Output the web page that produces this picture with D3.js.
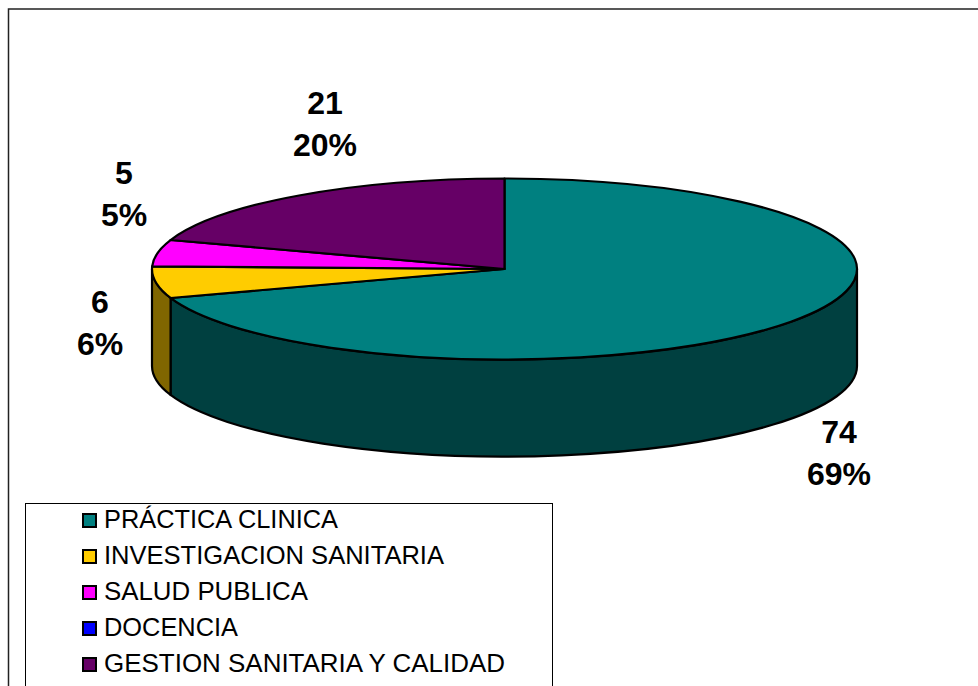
<!DOCTYPE html>
<html><head><meta charset="utf-8">
<script src="https://cdn.jsdelivr.net/npm/d3@7/dist/d3.min.js"></script>
<style>html,body{margin:0;padding:0;background:#fff}svg{display:block}text{font-family:"Liberation Sans",Arial,sans-serif;fill:#000}</style>
</head><body><svg id="c" width="978" height="686"></svg>
<script>
const categories = ["PRÁCTICA CLINICA","INVESTIGACION SANITARIA","SALUD PUBLICA","DOCENCIA","GESTION SANITARIA Y CALIDAD"];
const values = [74,6,5,0,21];
const percents = ["69%","6%","5%","0%","20%"];
const colors = ["#008080","#FFCC00","#FF00FF","#0000FF","#660066"];
const sideColors = ["#004040","#806600","#800080","#000080","#330033"];
const labelSpots = [[839,454],[100,324],[124,195],null,[325,125]];
const legendWidths = [234,340,204,134,401];

const svg = d3.select("#c");
const W=978,H=686;
svg.append("rect").attr("x",8.5).attr("y",9).attr("width",W).attr("height",H).attr("fill","#fff").attr("stroke","#222").attr("stroke-width",1.5);

const cx=504.5, cy=269, rx=352.5, ry=90.5, depth=97;
const pie = d3.pie().sort(null).value(d=>d)(values);
const X = d3.scaleLinear().domain([-1,1]).range([cx-rx,cx+rx]);
const Y = d3.scaleLinear().domain([-1,1]).range([cy-ry,cy+ry]);
const px = a=>X(Math.sin(a)), py=a=>Y(-Math.cos(a));

function rimPath(a0,a1,dz){
  const large = (a1-a0)>Math.PI?1:0;
  return `M${px(a0)},${py(a0)+dz}A${rx},${ry} 0 ${large} 1 ${px(a1)},${py(a1)+dz}`;
}
function sidePath(a0,a1){
  const large = (a1-a0)>Math.PI?1:0;
  return `M${px(a0)},${py(a0)}A${rx},${ry} 0 ${large} 1 ${px(a1)},${py(a1)}L${px(a1)},${py(a1)+depth}A${rx},${ry} 0 ${large} 0 ${px(a0)},${py(a0)+depth}Z`;
}
const g = svg.append("g").attr("stroke","#000").attr("stroke-width",2.2).attr("stroke-linejoin","round");
pie.forEach((d,i)=>{
  const a0=Math.max(d.startAngle,Math.PI/2), a1=Math.min(d.endAngle,Math.PI*1.5);
  if(a1>a0) g.append("path").attr("d",sidePath(a0,a1)).attr("fill",sideColors[i]);
});
pie.forEach((d,i)=>{
  if(d.endAngle-d.startAngle<=0) return;
  g.append("path").attr("d",rimPath(d.startAngle,d.endAngle,0)+`L${cx},${cy}Z`).attr("fill",colors[i]);
});
const lab = svg.append("g").attr("text-anchor","middle").attr("font-weight","bold").attr("font-size",32);
pie.forEach((d,i)=>{
  if(!labelSpots[i]) return;
  const [x,y]=labelSpots[i];
  lab.append("text").attr("x",x).attr("y",y-11).text(values[i]);
  lab.append("text").attr("x",x).attr("y",y+31).text(percents[i]);
});
const lx=25.5, ly=503.5;
svg.append("rect").attr("x",lx).attr("y",ly).attr("width",527).attr("height",H).attr("fill","#fff").attr("stroke","#000");
const row = d3.scalePoint().domain(categories).range([519,663]);
const lg = svg.append("g");
categories.forEach((c,i)=>{
  lg.append("rect").attr("x",83).attr("y",row(c)-5).attr("width",13).attr("height",13).attr("fill",colors[i]).attr("stroke","#000").attr("stroke-width",2);
  lg.append("text").attr("x",104).attr("y",row(c)+9).attr("font-size",26)
    .attr("textLength",legendWidths[i]).attr("lengthAdjust","spacingAndGlyphs").text(c);
});
</script></body></html>
